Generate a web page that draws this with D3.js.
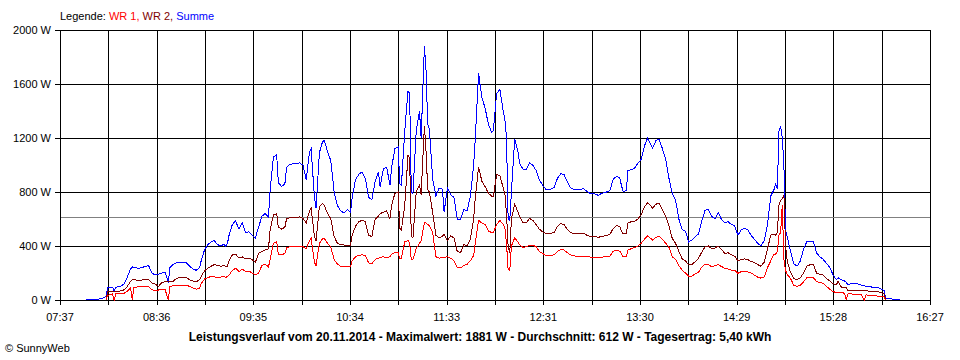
<!DOCTYPE html>
<html><head><meta charset="utf-8">
<script src="https://cdn.jsdelivr.net/npm/d3@7"></script>
<style>
html,body{margin:0;padding:0;background:#fff;}
svg{display:block;font-family:"Liberation Sans",Arial,sans-serif;}
</style></head>
<body>
<svg id="chart" width="960" height="360"></svg>
<script>
// ---- data ----
const times = [
"07:53","07:57","08:00","08:02","08:04","08:05","08:06","08:08","08:09","08:10",
"08:11","08:14","08:16","08:18","08:20","08:21","08:22","08:25","08:28","08:31",
"08:33","08:35","08:37","08:39","08:41","08:43","08:44","08:46","08:48","08:51",
"08:54","08:56","08:58","09:00","09:02","09:03","09:05","09:07","09:09","09:11",
"09:13","09:15","09:17","09:18","09:19","09:20","09:22","09:24","09:26","09:28",
"09:30","09:32","09:34","09:36","09:38","09:40","09:42","09:44","09:45","09:47",
"09:49","09:50","09:52","09:54","09:55","09:57","10:00","10:03","10:05","10:07",
"10:09","10:10","10:12","10:13","10:15","10:17","10:18","10:20","10:22","10:24",
"10:26","10:28","10:30","10:32","10:34","10:35","10:37","10:39","10:41","10:43",
"10:45","10:47","10:49","10:51","10:52","10:54","10:56","10:58","10:59","11:01",
"11:03","11:04","11:05","11:07","11:09","11:10","11:11","11:12","11:14","11:16",
"11:17","11:19","11:20","11:21","11:22","11:24","11:26","11:28","11:30","11:31",
"11:33","11:35","11:37","11:39","11:41","11:43","11:45","11:47","11:49","11:50",
"11:52","11:54","11:56","11:58","12:00","12:01","12:03","12:05","12:07","12:08",
"12:09","12:10","12:11","12:12","12:14","12:16","12:17","12:19","12:21","12:23",
"12:25","12:27","12:29","12:31","12:33","12:36","12:38","12:40","12:42","12:44",
"12:46","12:48","12:51","12:54","12:56","12:58","13:00","13:03","13:05","13:07",
"13:10","13:12","13:14","13:16","13:18","13:19","13:20","13:22","13:23","13:25",
"13:27","13:29","13:31","13:33","13:35","13:37","13:38","13:40","13:42","13:44",
"13:46","13:48","13:50","13:52","13:54","13:56","13:58","14:00","14:02","14:04",
"14:06","14:08","14:10","14:12","14:14","14:16","14:18","14:20","14:22","14:24",
"14:26","14:28","14:30","14:32","14:34","14:36","14:38","14:40","14:42","14:44",
"14:46","14:48","14:50","14:52","14:53","14:54","14:55","14:56","14:57","14:58",
"14:59","15:00","15:02","15:04","15:06","15:08","15:10","15:12","15:14","15:16",
"15:18","15:20","15:22","15:24","15:26","15:28","15:30","15:31","15:33","15:35",
"15:36","15:37","15:39","15:41","15:43","15:45","15:47","15:48","15:50","15:52",
"15:54","15:56","15:58","15:59","16:00","16:02","16:05","16:09"
];
const summe = [
5,5,5,10,18,25,90,92,95,65,
95,100,120,170,230,245,240,235,245,255,
200,185,190,200,205,130,240,265,275,280,
275,250,230,220,240,290,370,410,430,440,
410,400,415,395,420,480,560,585,525,570,
500,505,480,460,540,620,640,615,815,1060,
1075,870,840,860,980,1005,1010,1015,1000,890,
1100,1120,760,680,1090,1175,1180,1100,1030,800,
700,660,645,670,650,760,890,930,950,900,
760,745,880,950,840,970,985,850,980,1120,
1135,860,850,1250,1550,1530,800,790,1250,1400,
1200,1881,1700,1300,1270,900,770,830,820,650,
830,780,760,600,595,670,660,770,1000,1200,
1680,1500,1420,1300,1240,1255,1530,1560,1400,1340,
1210,600,590,800,1190,1100,1012,970,965,1015,
1000,960,890,850,820,822,835,900,935,930,
880,830,815,820,825,805,790,785,775,790,
800,810,895,915,905,850,805,810,960,965,
975,1012,1040,1140,1200,1150,1124,1180,1192,1120,
1040,900,790,740,600,520,510,430,445,470,
490,590,665,672,620,600,650,595,570,580,
560,550,480,520,530,520,480,450,420,400,
440,560,770,820,860,820,1250,1290,1200,1000,
520,470,360,270,250,290,380,432,432,430,
346,320,300,270,240,185,150,165,150,140,
130,115,120,125,120,110,105,100,99,95,
92,90,75,70,15,8,7,5
];
const wr2 = [
null,null,null,null,null,0,62,65,64,64,
62,68,75,100,140,150,150,145,150,152,
125,118,100,130,135,135,138,140,160,168,
165,150,140,135,150,175,215,235,250,262,
255,250,258,245,250,290,335,340,310,320,
305,310,300,280,345,360,370,380,520,630,
640,540,525,540,600,610,612,615,605,570,
660,680,470,440,690,715,700,640,600,470,
420,410,408,400,405,480,545,580,590,580,
480,470,600,620,640,650,660,600,700,790,
800,530,520,700,1070,1050,470,460,800,850,
780,1290,1100,820,800,650,480,460,470,490,
440,475,460,360,350,410,400,450,600,760,
985,880,840,790,770,770,930,920,830,790,
640,400,350,600,710,650,617,575,570,605,
590,560,525,505,492,495,500,545,565,560,
525,500,490,490,495,480,470,470,465,470,
478,485,530,550,545,510,490,495,570,580,
582,600,630,690,722,695,680,710,715,670,
620,550,455,420,360,305,290,260,262,285,
310,355,395,400,380,385,400,375,345,350,
335,325,290,300,305,300,285,278,262,250,
280,380,480,490,480,500,700,740,750,780,
400,290,205,160,150,165,200,250,262,260,
198,190,185,160,140,120,112,140,95,92,
90,70,72,74,74,74,74,70,65,65,
62,60,50,45,0,null,null,null
];
const wr1 = [
null,null,null,null,null,0,35,40,45,0,
45,48,50,65,90,0,95,97,100,100,
75,72,74,75,78,0,100,105,110,110,
110,100,90,80,85,120,155,165,175,172,
165,170,175,165,175,185,220,235,210,230,
210,215,200,185,200,255,265,245,300,420,
430,340,335,345,385,395,398,398,395,380,
440,457,280,255,420,455,455,420,390,300,
265,250,248,250,250,290,320,330,335,330,
275,270,300,310,315,320,315,320,340,350,
350,310,310,430,440,420,300,300,380,420,
440,575,570,560,550,500,320,310,315,315,
320,310,290,240,237,255,265,290,330,420,
590,570,560,510,500,500,560,590,560,540,
420,225,220,400,460,430,410,390,395,405,
405,395,360,345,328,330,335,360,372,372,
350,335,325,325,325,322,318,315,313,318,
320,325,360,368,362,345,320,322,370,380,
388,400,420,450,475,455,445,465,470,450,
420,390,320,300,255,222,200,175,178,195,
205,245,265,262,245,255,262,248,235,230,
222,220,198,210,210,208,200,185,170,162,
170,240,290,340,340,360,480,500,700,300,
220,190,160,110,100,110,135,165,170,165,
136,130,124,100,80,62,55,55,55,50,
0,45,45,42,42,40,0,38,35,32,
30,28,25,22,0,null,null,null
];
const yTicks = [0, 400, 800, 1200, 1600, 2000];
const xTickLabels = ["07:37","08:36","09:35","10:34","11:33","12:31","13:30","14:29","15:28","16:27"];
const average = 612;
const legendItems = [
  {text: "WR 1,", color: "#ff0000"},
  {text: " WR 2,", color: "#800000"},
  {text: " Summe", color: "#0000ff"}
];
const title = "Leistungsverlauf vom 20.11.2014 - Maximalwert: 1881 W - Durchschnitt: 612 W - Tagesertrag: 5,40 kWh";

// ---- drawing ----
const svg = d3.select("#chart");
const toMin = s => { const [h, m] = s.split(":").map(Number); return h * 60 + m; };
const t0 = toMin(xTickLabels[0]), t1 = toMin(xTickLabels[xTickLabels.length - 1]);
const x = d3.scaleLinear().domain([t0, t1]).range([60, 930]);
const y = d3.scaleLinear().domain([0, 2000]).range([300, 30]);

const g = svg.append("g").attr("shape-rendering", "crispEdges");
// vertical grid (18 intervals)
const nGrid = 18;
const gridT = d3.range(nGrid + 1).map(k => t0 + k * (t1 - t0) / nGrid);
g.selectAll("line.vg").data(gridT).join("line")
  .attr("x1", d => Math.round(x(d)) + 0.5).attr("x2", d => Math.round(x(d)) + 0.5)
  .attr("y1", y(2000)).attr("y2", y(0) + 5)
  .attr("stroke", "#000").attr("stroke-width", 1);
// horizontal grid
g.selectAll("line.hg").data(yTicks).join("line")
  .attr("x1", 55).attr("x2", 930)
  .attr("y1", d => Math.round(y(d)) + 0.5).attr("y2", d => Math.round(y(d)) + 0.5)
  .attr("stroke", "#000").attr("stroke-width", 1);
// average line
g.append("line")
  .attr("x1", 61).attr("x2", 930)
  .attr("y1", Math.round(y(average)) + 0.5).attr("y2", Math.round(y(average)) + 0.5)
  .attr("stroke", "#808080").attr("stroke-width", 1);

// y labels
svg.selectAll("text.yl").data(yTicks).join("text")
  .attr("x", 51).attr("y", d => y(d) + 4)
  .attr("text-anchor", "end").attr("font-size", 11).attr("fill", "#000")
  .text(d => d + " W");
// x labels
svg.selectAll("text.xl").data(xTickLabels).join("text")
  .attr("x", (d, i) => x(gridT[i * 2])).attr("y", 321)
  .attr("text-anchor", "middle").attr("font-size", 11).attr("fill", "#000")
  .text(d => d);

// series
const line = vals => d3.line()
  .defined(d => d[1] != null)
  .x(d => x(d[0])).y(d => y(d[1]))(times.map((t, i) => [toMin(t), vals[i]]));
const series = [
  {vals: summe, color: "#0000ff"},
  {vals: wr2, color: "#800000"},
  {vals: wr1, color: "#ff0000"}
];
svg.append("g").attr("shape-rendering", "crispEdges")
  .selectAll("path").data(series).join("path")
  .attr("d", d => line(d.vals))
  .attr("fill", "none").attr("stroke", d => d.color)
  .attr("stroke-width", 1).attr("stroke-linejoin", "miter");

// legend
const leg = svg.append("text").attr("x", 60).attr("y", 20).attr("font-size", 11);
leg.append("tspan").attr("fill", "#000").text("Legende: ");
legendItems.forEach(it => leg.append("tspan").attr("fill", it.color).attr("xml:space", "preserve").text(it.text));

// title
svg.append("text").attr("x", 480).attr("y", 341).attr("text-anchor", "middle")
  .attr("font-size", 12).attr("font-weight", "bold").attr("fill", "#000").text(title);
// copyright
svg.append("text").attr("x", 5).attr("y", 352).attr("font-size", 11).attr("fill", "#000").text("© SunnyWeb");
</script>
</body></html>
